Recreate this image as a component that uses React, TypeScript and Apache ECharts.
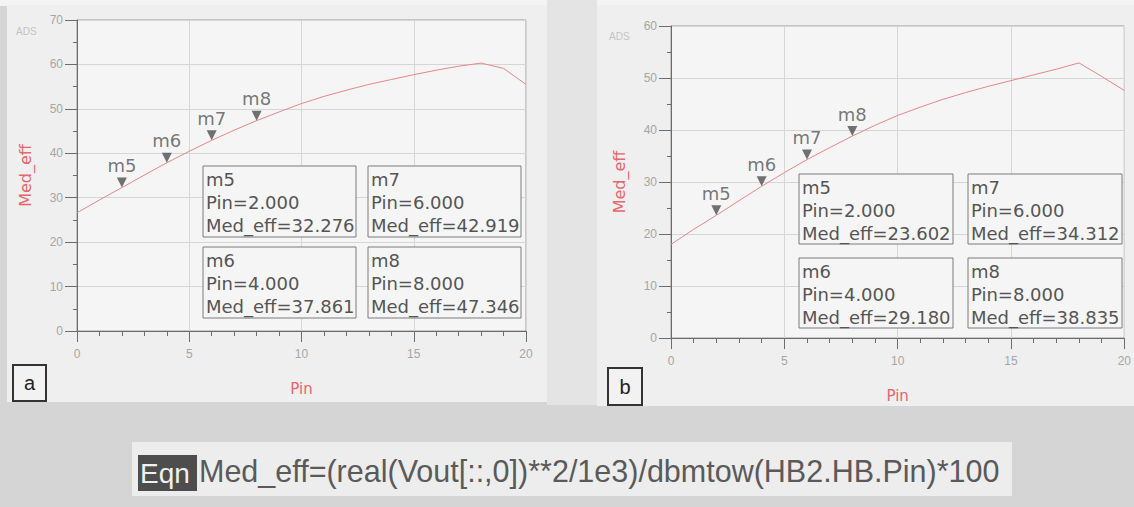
import React, { useEffect, useRef } from "react";
import * as echarts from "echarts";

// ---------- data ----------
const PIN = [0, 1, 2, 3, 4, 5, 6, 7, 8, 9, 10, 11, 12, 13, 14, 15, 16, 17, 18, 19, 20];
const EFF_A = [26.6, 29.5, 32.276, 35.1, 37.861, 40.45, 42.919, 45.2, 47.346, 49.3, 51.2, 52.8, 54.2, 55.5, 56.6, 57.7, 58.7, 59.6, 60.3, 59.1, 55.5];
const EFF_B = [18.0, 20.9, 23.602, 26.4, 29.18, 31.8, 34.312, 36.6, 38.835, 40.9, 42.8, 44.4, 45.9, 47.2, 48.4, 49.5, 50.6, 51.7, 52.9, 50.3, 47.6];
const MARKER_NAMES = ["m5", "m6", "m7", "m8"];
const MARKER_PIN = [2, 4, 6, 8];
const MARKER_EFF_A = [32.276, 37.861, 42.919, 47.346];
const MARKER_EFF_B = [23.602, 29.18, 34.312, 38.835];
const X_MAX = 20;
const X_STEP = 5;
const Y_MAX = [70, 60];
const Y_STEP = 10;
const PANEL_LABELS = ["a", "b"];
const X_NAME = "Pin";
const Y_NAME = "Med_eff";
const ADS_TAG = "ADS";
const EQN_TAG = "Eqn";
const EQUATION = "Med_eff=(real(Vout[::,0])**2/1e3)/dbmtow(HB2.HB.Pin)*100";

// ---------- layout ----------
const PANELS = [
  {
    grid: { left: 77, top: 20, width: 449, height: 311 },
    bg: { x: 7, y: 5, w: 540, h: 397 },
    boxX: [203, 368], boxY: [166, 247], boxW: 153, boxH: 71,
    label: { x: 13, y: 365, w: 33, h: 36 },
    ads: { x: 16, y: 31 },
  },
  {
    grid: { left: 671, top: 26, width: 458, height: 312 },
    bg: { x: 597, y: 5, w: 537, h: 401 },
    boxX: [799, 968], boxY: [174, 258], boxW: 154, boxH: 70,
    label: { x: 608, y: 368, w: 34, h: 37 },
    ads: { x: 609, y: 36 },
  },
];

const CHART_FONT = '"DejaVu Sans", sans-serif';
const TICK_FONT = '"Liberation Sans", Arial, sans-serif';
const RED = "#e8656c";
const AXIS_GRAY = "#6c6c6c";

export default function App() {
  const ref = useRef<HTMLDivElement>(null);

  useEffect(() => {
    if (!ref.current) return;
    const chart = echarts.init(ref.current, null, { renderer: "svg" });

    const effs = [EFF_A, EFF_B];
    const markerEffs = [MARKER_EFF_A, MARKER_EFF_B];

    const grids = PANELS.map((p) => ({
      ...p.grid,
      show: true,
      borderColor: "#9a9a9a",
      borderWidth: 1,
      backgroundColor: "#f5f5f5",
    }));

    const xAxes = PANELS.map((_, i) => ({
      type: "value",
      gridIndex: i,
      min: 0,
      max: X_MAX,
      interval: X_STEP,
      name: X_NAME,
      nameLocation: "middle",
      nameGap: 50,
      nameTextStyle: { color: RED, fontSize: 15, fontFamily: CHART_FONT },
      axisLine: { show: true, onZero: false, lineStyle: { color: AXIS_GRAY, width: 1 } },
      axisTick: { show: true, length: 11, lineStyle: { color: AXIS_GRAY } },
      minorTick: { show: true, splitNumber: 5, length: 5, lineStyle: { color: AXIS_GRAY } },
      splitLine: { show: true, lineStyle: { color: "#d6d6d6", width: 1 } },
      axisLabel: { color: "#a6a6a6", fontSize: 12, margin: 17, fontFamily: TICK_FONT },
    }));

    const yAxes = PANELS.map((_, i) => ({
      type: "value",
      gridIndex: i,
      min: 0,
      max: Y_MAX[i],
      interval: Y_STEP,
      name: Y_NAME,
      nameLocation: "middle",
      nameGap: 44,
      nameTextStyle: { color: RED, fontSize: 16, fontFamily: CHART_FONT },
      axisLine: { show: true, onZero: false, lineStyle: { color: AXIS_GRAY, width: 1 } },
      axisTick: { show: true, length: 12, lineStyle: { color: AXIS_GRAY } },
      minorTick: { show: true, splitNumber: 2, length: 4, lineStyle: { color: AXIS_GRAY } },
      splitLine: { show: true, lineStyle: { color: "#d6d6d6", width: 1 } },
      axisLabel: { color: "#a6a6a6", fontSize: 12, margin: 14, fontFamily: TICK_FONT },
    }));

    const series: any[] = [];
    PANELS.forEach((_, i) => {
      series.push({
        type: "line",
        xAxisIndex: i,
        yAxisIndex: i,
        data: PIN.map((p, k) => [p, effs[i][k]]),
        showSymbol: false,
        symbol: "none",
        lineStyle: { color: "#e5868a", width: 1 },
        z: 3,
      });
      series.push({
        type: "scatter",
        xAxisIndex: i,
        yAxisIndex: i,
        data: MARKER_PIN.map((p, k) => ({ value: [p, markerEffs[i][k]], name: MARKER_NAMES[k] })),
        symbol: "triangle",
        symbolRotate: 180,
        symbolSize: [10, 10],
        symbolOffset: [0, -5],
        itemStyle: { color: "#4f4f4f" },
        label: {
          show: true,
          position: "top",
          distance: 3,
          formatter: (d: any) => d.name,
          color: "#555",
          fontSize: 18,
          fontFamily: CHART_FONT,
        },
        z: 4,
      });
    });

    const graphic: any[] = [];
    // background
    graphic.push({ type: "rect", z: -20, shape: { x: 0, y: 0, width: 1134, height: 507 }, style: { fill: "#d5d5d5" } });
    graphic.push({ type: "rect", z: -19, shape: { x: 0, y: 0, width: 1134, height: 6 }, style: { fill: "#f4f4f4" } });
    graphic.push({ type: "rect", z: -19, shape: { x: 547, y: 0, width: 50, height: 405 }, style: { fill: "#e4e4e4" } });
    PANELS.forEach((p, i) => {
      graphic.push({ type: "rect", z: -18, shape: { x: p.bg.x, y: p.bg.y, width: p.bg.w, height: p.bg.h }, style: { fill: "#efefef" } });
      graphic.push({
        type: "text", z: 5, x: p.ads.x, y: p.ads.y,
        style: { text: ADS_TAG, fill: "#c4c4c4", font: `10px ${TICK_FONT}`, verticalAlign: "middle" },
      });
      // panel label
      graphic.push({
        type: "rect", z: 50,
        shape: { x: p.label.x, y: p.label.y, width: p.label.w, height: p.label.h },
        style: { fill: "#f2f2f2", stroke: "#333", lineWidth: 2 },
      });
      graphic.push({
        type: "text", z: 51, x: p.label.x + p.label.w / 2, y: p.label.y + p.label.h / 2,
        style: { text: PANEL_LABELS[i], fill: "#222", font: `20px ${TICK_FONT}`, align: "center", verticalAlign: "middle" },
      });
      // marker readout boxes
      MARKER_NAMES.forEach((name, k) => {
        const col = k >= 2 ? 1 : 0;
        const row = k % 2;
        const bx = p.boxX[col];
        const by = p.boxY[row];
        graphic.push({
          type: "rect", z: 60,
          shape: { x: bx, y: by, width: p.boxW, height: p.boxH },
          style: { fill: "#f5f5f5", stroke: "#7a7a7a", lineWidth: 1 },
        });
        graphic.push({
          type: "text", z: 61, x: bx + 3, y: by + 2,
          style: {
            text: `${name}\n${X_NAME}=${MARKER_PIN[k].toFixed(3)}\n${Y_NAME}=${markerEffs[i][k].toFixed(3)}`,
            fill: "#555",
            font: `18px ${CHART_FONT}`,
            lineHeight: 23,
            verticalAlign: "top",
          },
        });
      });
    });
    // equation band
    graphic.push({ type: "rect", z: -18, shape: { x: 132, y: 442, width: 880, height: 54 }, style: { fill: "#ededed" } });
    graphic.push({ type: "rect", z: 10, shape: { x: 138, y: 455, width: 59, height: 36 }, style: { fill: "#4d4d4d" } });
    graphic.push({
      type: "text", z: 11, x: 140, y: 473,
      style: { text: EQN_TAG, fill: "#f0f0f0", font: `28px ${TICK_FONT}`, verticalAlign: "middle" },
    });
    graphic.push({
      type: "text", z: 11, x: 199, y: 471,
      style: { text: EQUATION, fill: "#5a5a5a", font: `30.5px ${TICK_FONT}`, verticalAlign: "middle" },
    });

    chart.setOption({
      animation: false,
      backgroundColor: "#d5d5d5",
      grid: grids,
      xAxis: xAxes,
      yAxis: yAxes,
      series,
      graphic,
    });

    return () => chart.dispose();
  }, []);

  return (
    <div
      ref={ref}
      style={{ position: "fixed", left: 0, top: 0, width: 1134, height: 507 }}
    />
  );
}
